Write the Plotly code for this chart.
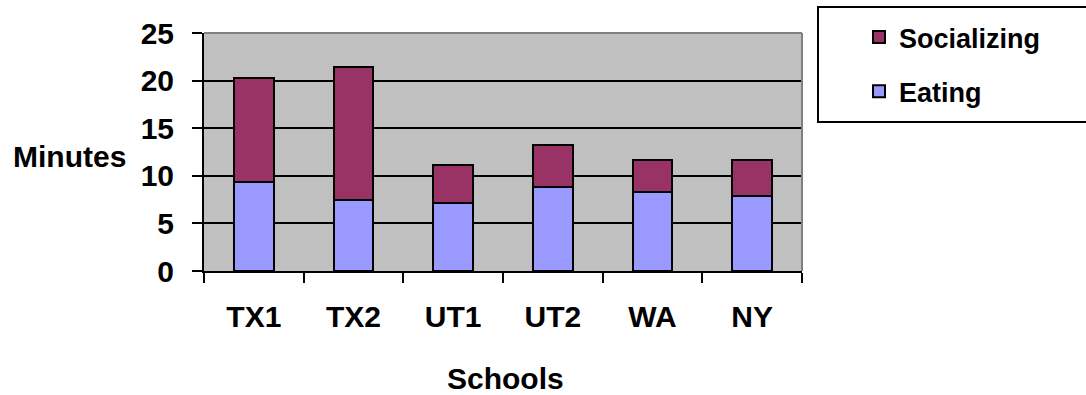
import plotly.graph_objects as go

schools = ["TX1", "TX2", "UT1", "UT2", "WA", "NY"]
eating = [9.4, 7.5, 7.1, 8.8, 8.3, 7.9]
socializing = [10.9, 13.9, 4.0, 4.4, 3.4, 3.8]
y_ticks = [0, 5, 10, 15, 20, 25]

FONT = dict(family="Liberation Sans, Arial, sans-serif", size=30, color="black", weight="bold")

# plot area in pixels (1086 x 395 page)
L, R, T, B = 204, 802, 33, 271
W, H = 1086, 395


def px_x(x):
    return (x - L) / (R - L)


def px_y(y):
    return (B - y) / (B - T)


fig = go.Figure()
fig.add_trace(go.Bar(
    x=schools, y=eating, name="Eating", legendgroup="e", legendrank=2,
    marker=dict(color="#9999FF", line=dict(color="black", width=2)),
))
fig.add_trace(go.Bar(
    x=schools, y=socializing, name="Socializing", legendgroup="s", legendrank=1,
    marker=dict(color="#993366", line=dict(color="black", width=2)),
))

fig.update_layout(
    width=W, height=H,
    margin=dict(l=L, r=W - R, t=T, b=H - B, pad=0),
    barmode="stack",
    bargap=0.6,
    paper_bgcolor="white",
    plot_bgcolor="#C0C0C0",
    font=FONT,
    showlegend=True,
    legend=dict(
        x=px_x(859), y=px_y(13), xanchor="left", yanchor="top",
        traceorder="grouped", tracegroupgap=16,
        font=dict(family=FONT["family"], size=27, color="black", weight="bold"),
        bgcolor="rgba(0,0,0,0)", borderwidth=0,
    ),
    xaxis=dict(
        type="category", tickson="boundaries",
        ticks="outside", ticklen=10, tickwidth=2, tickcolor="black",
        showline=True, linecolor="black", linewidth=2,
        showgrid=False, ticklabelstandoff=18,
        tickfont=FONT,
    ),
    yaxis=dict(
        range=[0, 25], tickvals=y_ticks,
        ticks="outside", ticklen=10, tickwidth=2, tickcolor="black",
        showline=True, linecolor="black", linewidth=2,
        showgrid=True, gridcolor="black", gridwidth=2,
        zeroline=False, ticklabelstandoff=12,
        tickfont=FONT,
    ),
    shapes=[
        # grey frame on top and right of the plot area
        dict(type="line", xref="paper", yref="paper", x0=0, x1=1, y0=1, y1=1,
             line=dict(color="#808080", width=2)),
        dict(type="line", xref="paper", yref="paper", x0=1, x1=1, y0=0, y1=1,
             line=dict(color="#808080", width=2)),
        # legend frame
        dict(type="rect", xref="paper", yref="paper",
             x0=px_x(818), x1=px_x(1092), y0=px_y(7), y1=px_y(122),
             line=dict(color="black", width=2), fillcolor="rgba(0,0,0,0)"),
    ],
    annotations=[
        dict(text="Minutes", xref="paper", yref="paper",
             x=px_x(11), y=px_y(156), xanchor="left", yanchor="middle",
             showarrow=False, font=FONT),
        dict(text="Schools", xref="paper", yref="paper",
             x=px_x(505), y=px_y(378), xanchor="center", yanchor="middle",
             showarrow=False, font=FONT),
    ],
)

fig.write_html("out.html")
